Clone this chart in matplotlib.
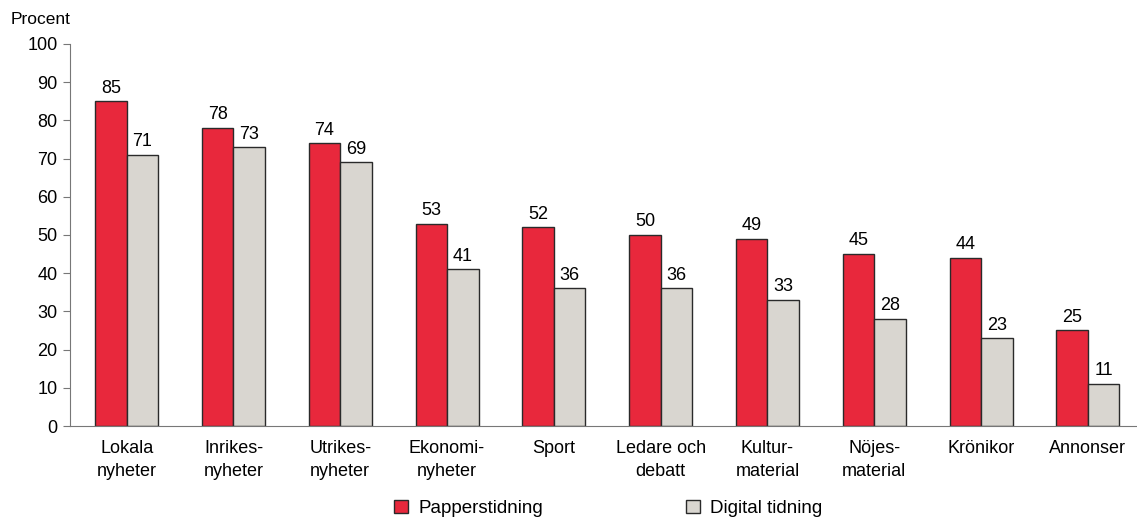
import matplotlib.pyplot as plt
import numpy as np
from matplotlib.patches import Patch

plt.rcParams['font.family'] = ['Liberation Sans', 'DejaVu Sans']

categories = ["Lokala\nnyheter", "Inrikes-\nnyheter", "Utrikes-\nnyheter", "Ekonomi-\nnyheter",
              "Sport", "Ledare och\ndebatt", "Kultur-\nmaterial", "Nöjes-\nmaterial",
              "Krönikor", "Annonser"]
papper = [85, 78, 74, 53, 52, 50, 49, 45, 44, 25]
digital = [71, 73, 69, 41, 36, 36, 33, 28, 23, 11]

red = "#E8283C"
grey = "#D9D6D0"
edge = "#2a2a2a"

fig = plt.figure(figsize=(11.37, 5.17), dpi=100)
ax = fig.add_axes([0.0616, 0.176, 0.9384, 0.739])

x = np.arange(len(categories))
w = 0.295
ax.bar(x - w / 2, papper, w, color=red, edgecolor=edge, linewidth=1)
ax.bar(x + w / 2, digital, w, color=grey, edgecolor=edge, linewidth=1)

for xi, v in zip(x - w / 2, papper):
    ax.text(xi, v + 1.2, str(v), ha="center", va="bottom", fontsize=13)
for xi, v in zip(x + w / 2, digital):
    ax.text(xi, v + 1.2, str(v), ha="center", va="bottom", fontsize=13)

ax.set_xlim(-0.53, 9.46)
ax.set_ylim(0, 100)
ax.set_yticks(range(0, 101, 10))
ax.set_xticks(x)
ax.set_xticklabels(categories, fontsize=13, linespacing=1.5)
ax.tick_params(axis="x", length=0, pad=10)
ax.tick_params(axis="y", length=5, color="#777777", labelsize=13, pad=4)

for s in ["top", "right"]:
    ax.spines[s].set_visible(False)
ax.spines["left"].set_color("#777777")
ax.spines["bottom"].set_color("#777777")

fig.text(0.009, 0.963, "Procent", fontsize=12.5, va="center")

handles = [Patch(facecolor=red, edgecolor=edge, label="Papperstidning"),
           Patch(facecolor=grey, edgecolor=edge, label="Digital tidning")]
fig.legend(handles=handles, loc="center", bbox_to_anchor=(0.535, 0.017), ncol=2,
           frameon=False, fontsize=13.5, handlelength=0.75, handleheight=0.75,
           columnspacing=7.6, handletextpad=0.55, borderaxespad=0)

fig.savefig("out.png", dpi=100)
